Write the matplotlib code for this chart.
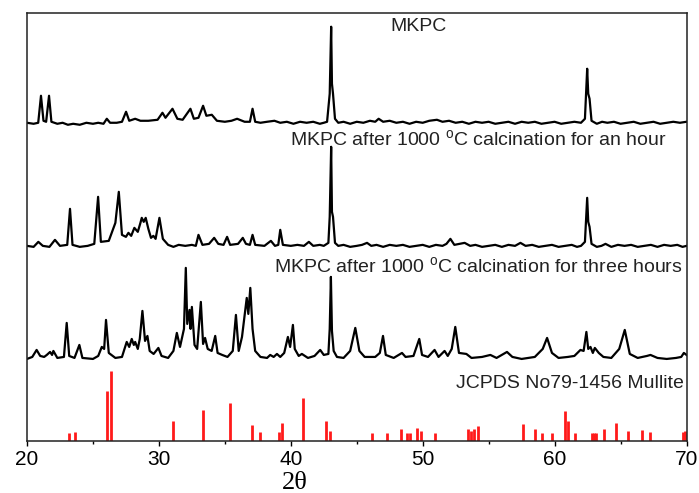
import matplotlib
matplotlib.use("Agg")
import matplotlib.pyplot as plt
from matplotlib.ticker import MultipleLocator
import matplotlib.transforms as mtransforms

plt.rcParams['font.family'] = ['Liberation Sans', 'DejaVu Sans']

# ---- data (2theta, relative intensity) ----
mkpc_x = [20.0, 20.5, 20.85, 21.06, 21.25, 21.45, 21.67, 21.85, 22.3, 22.7, 23.1, 23.5, 24.0, 24.5, 25.0, 25.4, 25.8, 26.05, 26.3,
          26.8, 27.2, 27.51, 27.75, 28.2, 28.6, 29.2, 29.9, 30.27, 30.5, 31.03, 31.4, 31.8, 32.39, 32.65, 33.0, 33.35, 33.6, 34.01, 34.4, 35.0, 35.5, 35.93, 36.5, 36.9, 37.1, 37.3,
          37.7, 38.2, 38.76, 39.2, 39.7, 40.2, 40.7, 41.2, 41.7, 42.2, 42.5, 42.75, 42.95, 43.06, 43.12, 43.2, 43.35,
          43.6, 44.0, 44.5, 45.0, 45.5, 46.0, 46.4, 46.66, 47.0, 47.5, 48.0, 48.5, 49.0, 49.5, 50.0, 50.5, 51.08, 51.5, 52.0, 52.5,
          53.0, 53.5, 54.0, 54.5, 55.0, 55.5, 56.0, 56.5, 57.0, 57.5, 58.0, 58.5, 59.0, 59.5, 60.0, 60.5, 61.0, 61.5, 62.0,
          62.3, 62.47, 62.55, 62.65, 62.8,
          63.2, 63.6, 64.0, 64.5, 65.0, 65.5, 66.0, 66.5, 67.0, 67.5, 68.0, 68.5, 69.0, 69.5, 70.0]
mkpc_y = [1, 0, 1, 28, 3, 2, 28, 2, 0, 1, -1, 0, -1, 1, 0, 1, 0, 5, 1,
          1, 2, 12, 3, 5, 3, 3, 4, 11, 6, 15, 5, 4, 15, 5, 6, 18, 8, 9, 3, 2, 3, 5, 2, 2, 15, 2,
          1, 2, 3, 1, 2, 0, 2, 1, 2, 0, 1, 2, 30, 97, 40, 30, 5,
          1, 2, 0, 2, 1, 3, 2, 5, 2, 3, 1, 2, 0, 2, 1, 3, 4, 2, 3, 1,
          2, 0, 2, 1, 2, 0, 1, 2, 0, 2, 1, 2, 0, 1, 2, 0, 1, 2, 1,
          5, 55, 30, 25, 3,
          0, 2, 1, 2, 0, 1, 2, 0, 1, 2, 0, 1, 2, 1, 2]

hour1_x = [20.0, 20.5, 20.86, 21.2, 21.7, 22.12, 22.5, 23.05, 23.26, 23.45, 24.0, 24.6, 25.1, 25.39, 25.6,
           26.2, 26.7, 26.96, 27.2, 27.5, 27.69, 27.9, 28.14, 28.4, 28.6, 28.7, 28.85, 29.0, 29.2, 29.4,
           29.58, 29.75, 30.04, 30.3, 30.7, 31.1, 31.5, 32.0, 32.5, 32.8, 33.0, 33.3, 33.8, 34.19, 34.5, 34.9, 35.17, 35.4,
           36.0, 36.36, 36.6, 36.9, 37.1, 37.3, 38.0, 38.49, 38.8, 39.05, 39.2, 39.4, 40.0, 40.5, 41.0, 41.37,
           41.7, 42.2, 42.5, 42.85, 42.95, 43.06, 43.12, 43.2, 43.35,
           43.6, 44.0, 44.5, 45.0, 45.4, 45.78, 46.1, 46.5, 47.0, 47.5, 48.0, 48.5, 49.0, 49.5, 50.0, 50.5, 51.0, 51.5, 51.8, 52.1, 52.4, 52.8,
           53.18, 53.6, 54.0, 54.5, 55.0, 55.5, 56.0, 56.5, 57.0, 57.41, 57.8, 58.3, 58.8, 59.3, 59.8, 60.3, 60.8, 61.3, 61.7, 62.0,
           62.3, 62.47, 62.55, 62.65, 62.8,
           63.2, 63.55, 63.86, 64.3, 64.8, 65.3, 65.8, 66.3, 66.8, 67.3, 67.8, 68.3, 68.8, 69.3, 69.7, 70.0]
hour1_y = [1, 0, 5, 1, 0, 7, 1, 2, 38, 2, 0, 1, 3, 50, 5,
           6, 24, 55, 12, 10, 14, 11, 19, 15, 24, 29, 25, 29, 18, 9,
           11, 8, 29, 8, 2, 0, 2, 1, 2, 1, 12, 2, 3, 9, 3, 2, 10, 2,
           3, 9, 3, 2, 12, 2, 1, 6, 1, 2, 17, 2, 1, 2, 1, 5,
           1, 2, 1, 4, 30, 100, 35, 30, 4,
           1, 2, 0, 1, 2, 4, 1, 2, 0, 2, 1, 2, 0, 1, 2, 0, 2, 1, 3, 8, 2, 3,
           4, 1, 2, 0, 1, 2, 0, 2, 1, 4, 1, 2, 0, 1, 2, 0, 1, 2, 0, 1,
           5, 49, 25, 20, 3,
           0, 1, 3, 0, 2, 1, 2, 0, 1, 2, 0, 2, 1, 2, 0, 1]

hour3_x = [20.0, 20.4, 20.73, 21.0, 21.3, 21.5, 21.75, 21.9, 22.0, 22.3, 22.8, 23.01, 23.2, 23.6, 23.97,
           24.2, 25.0, 25.4, 25.67, 25.85, 25.99, 26.2, 26.7, 27.2, 27.56, 27.75, 27.94, 28.1, 28.2, 28.4,
           28.55, 28.75, 28.95, 29.13, 29.3, 29.6, 29.96, 30.2, 30.7, 31.1, 31.36, 31.6, 31.9, 32.04, 32.15,
           32.32, 32.4, 32.5, 32.7, 32.9, 33.18, 33.35, 33.5, 33.7, 34.0, 34.27, 34.45, 34.8, 35.2, 35.6,
           35.84, 36.05, 36.3, 36.66, 36.78, 36.93, 37.1, 37.3, 37.7, 38.2, 38.44, 38.7, 38.95, 39.2, 39.5,
           39.78, 39.95, 40.16, 40.3, 40.6, 40.84, 41.3, 41.8, 42.23, 42.5, 42.85, 42.95, 43.04, 43.12, 43.25,
           43.5, 44.0, 44.5, 44.89, 45.2, 45.6, 46.4, 46.75, 46.99, 47.2, 47.8, 48.43, 48.7, 49.3, 49.74,
           49.95, 50.4, 50.9, 51.2, 51.66, 51.9, 52.2, 52.47, 52.75, 53.31, 53.7, 54.5, 55.13, 55.6, 56.39,
           56.8, 57.5, 58.5, 59.1, 59.43, 59.8, 60.3, 61.0, 61.5, 61.96, 62.2, 62.41, 62.55, 62.72, 62.9,
           63.05, 63.35, 63.7, 64.3, 64.9, 65.32, 65.7, 66.3, 67.0, 67.27, 67.8, 68.5, 69.2, 69.6, 69.8, 70.0]
hour3_y = [0, 2, 9, 3, 2, 4, 7, 4, 8, 1, 2, 36, 3, 1, 14,
           1, 0, 3, 12, 10, 39, 6, 1, 2, 17, 12, 20, 14, 17, 10,
           20, 48, 18, 23, 8, 5, 11, 3, 1, 8, 26, 12, 30, 91, 35,
           49, 30, 52, 14, 10, 57, 15, 21, 10, 8, 23, 6, 4, 2, 8,
           44, 8, 22, 61, 45, 71, 30, 8, 2, 1, 4, 2, 5, 2, 6,
           22, 12, 34, 10, 3, 5, 1, 3, 9, 4, 5, 30, 82, 28, 8,
           2, 1, 8, 31, 8, 2, 2, 6, 23, 4, 1, 6, 2, 3, 20,
           4, 2, 9, 2, 8, 3, 10, 32, 6, 5, 1, 2, 4, 1, 7,
           2, 0, 2, 10, 21, 6, 1, 2, 3, 9, 8, 27, 10, 12, 6,
           11, 6, 2, 1, 10, 29, 5, 1, 3, 4, 1, 0, 1, 2, 6, 4]

mullite_pos = [23.16, 23.67, 26.05, 26.35, 31.08, 33.35, 35.38, 37.07, 37.68, 39.07, 39.37, 40.94, 42.64, 43.0,
               46.18, 47.31, 48.32, 48.83, 49.06, 49.59, 49.84, 50.9, 53.46, 53.66, 53.91, 54.22,
               57.63, 58.49, 59.05, 59.83, 60.82, 61.05, 61.58, 62.81, 62.97, 63.17, 63.78, 64.69,
               65.55, 66.61, 67.24, 69.75, 69.92]
mullite_int = [7.7, 9.3, 50, 70, 20, 31, 37.7, 16, 8.7, 8.7, 18.3, 42.7, 20, 10,
               8.3, 8.3, 11.7, 8.3, 8.3, 13, 9.7, 8.3, 11.7, 10.3, 12, 14.7,
               16.7, 11.7, 8.3, 8.3, 30, 19.7, 8.3, 8.3, 8.3, 8.3, 11.7, 17.7,
               9.7, 10.7, 8.7, 9, 10]

labels = ["MKPC",
          "MKPC after 1000 $^\\mathregular{o}$C calcination for an hour",
          "MKPC after 1000 $^\\mathregular{o}$C calcination for three hours",
          "JCPDS No79-1456 Mullite"]
offsets = [317, 194, 82]
xticks = [20, 30, 40, 50, 60, 70]

assert len(mkpc_x) == len(mkpc_y)
assert len(hour1_x) == len(hour1_y)
assert len(hour3_x) == len(hour3_y)

fig = plt.figure(figsize=(6.99, 4.93), dpi=100)
ax = fig.add_axes([27/699, (493-441)/493, (686.5-27)/699, (441-12.7)/493])

line_kw = dict(color='black', lw=1.6, solid_joinstyle='round')
ax.plot(mkpc_x, [v + offsets[0] for v in mkpc_y], **line_kw)
ax.plot(hour1_x, [v + offsets[1] for v in hour1_y], **line_kw)
ax.plot(hour3_x, [v + offsets[2] for v in hour3_y], **line_kw)
ax.vlines(mullite_pos, 0, mullite_int, color='#ff1a1a', lw=2.0)

tc = '#222222'
ax.text(49.67, 414, labels[0], fontsize=14, color=tc, ha='center', va='center')
ax.text(54.2, 301, labels[1], fontsize=14, color=tc, ha='center', va='center')
ax.text(54.2, 174.3, labels[2], fontsize=14, color=tc, ha='center', va='center')
ax.text(61.19, 57.7, labels[3], fontsize=14, color=tc, ha='center', va='center')

ax.set_xlim(20, 70)
ax.set_ylim(0, 428)
ax.set_xticks(xticks)
ax.xaxis.set_minor_locator(MultipleLocator(5))
ax.tick_params(axis='x', which='major', direction='out', length=3.5, width=1.0, labelsize=15, pad=3, colors='black')
ax.tick_params(axis='x', which='minor', direction='out', length=2.2, width=1.0)
ax.set_yticks([])
for s in ax.spines.values():
    s.set_linewidth(1.1)
    s.set_color('#222222')

trans = mtransforms.blended_transform_factory(ax.transData, ax.transAxes)
ax.text(40.33, -0.0974, "2θ", transform=trans, fontsize=19, ha='center', va='center',
        family=['Liberation Serif', 'DejaVu Serif'])

fig.savefig("out.png", dpi=100)
